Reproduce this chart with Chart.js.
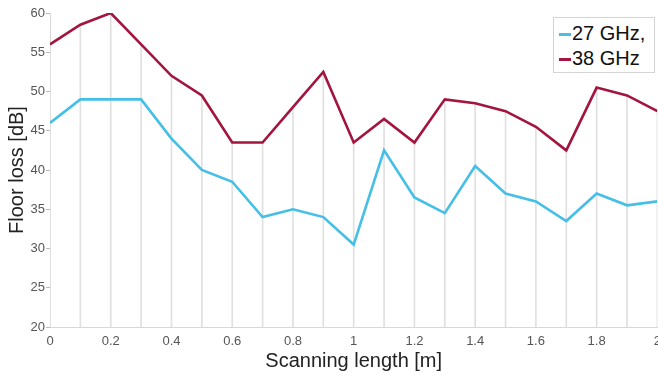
<!DOCTYPE html>
<html>
<head>
<meta charset="utf-8">
<script src="https://cdn.jsdelivr.net/npm/chart.js@4"></script>
<style>
  html, body { margin: 0; padding: 0; background: #fff; overflow: hidden; }
  #wrap { position: relative; width: 658px; height: 376px; overflow: hidden; }
  #newChart { position: absolute; left: 0; top: 0; }
  #legend {
    position: absolute; left: 553px; top: 17px; width: 100px; height: 54px;
    border: 1px solid #d4d4d4; background: #fff;
    font-family: "Liberation Sans", Arial, sans-serif; font-size: 20px; color: #111;
  }
  .row { position: absolute; left: 5px; height: 24px; line-height: 24px; white-space: nowrap; }
  .sw { display: inline-block; width: 12px; height: 3px; vertical-align: middle; margin-right: 1px; }
</style>
</head>
<body>
<div id="wrap">
  <canvas id="newChart" width="668" height="376"></canvas>
  <div id="legend">
    <div class="row" style="top:3px"><span class="sw" style="background:#45bfe6"></span>27 GHz,</div>
    <div class="row" style="top:28px"><span class="sw" style="background:#a3153f"></span>38 GHz</div>
  </div>
</div>
<script>
// scanning positions [m]
var positions = [0, 0.1, 0.2, 0.3, 0.4, 0.5, 0.6, 0.7, 0.8, 0.9, 1, 1.1, 1.2, 1.3, 1.4, 1.5, 1.6, 1.7, 1.8, 1.9, 2];
// floor loss [dB]
var loss27 = [46, 49, 49, 49, 44, 40, 38.5, 34, 35, 34, 30.5, 42.5, 36.5, 34.5, 40.5, 37, 36, 33.5, 37, 35.5, 36];
var loss38 = [56, 58.5, 60, 56, 52, 49.5, 43.5, 43.5, 48, 52.5, 43.5, 46.5, 43.5, 49, 48.5, 47.5, 45.5, 42.5, 50.5, 49.5, 47.5];
var xTicks = [0, 0.2, 0.4, 0.6, 0.8, 1, 1.2, 1.4, 1.6, 1.8, 2];
var yTicks = [20, 25, 30, 35, 40, 45, 50, 55, 60];

function pts(vals) {
  return positions.map(function(x, i) { return {x: x, y: vals[i]}; });
}

window.onload = function() {
  var ctx = document.getElementById('newChart');
  var tickFont = {family: '"Liberation Sans", Arial, sans-serif', size: 13};
  new Chart(ctx, {
    type: 'line',
    data: {
      datasets: [{
        label: '27 GHz,',
        data: pts(loss27),
        borderColor: '#45bfe6',
        borderWidth: 2.6,
        pointRadius: 0,
        tension: 0,
        order: 1
      }, {
        label: '38 GHz',
        data: pts(loss38),
        borderColor: '#a3153f',
        borderWidth: 2.6,
        pointRadius: 0,
        tension: 0,
        order: 0
      }, {
        // thin grey stems under the 38 GHz curve
        type: 'bar',
        label: 'stems',
        data: pts(loss38),
        backgroundColor: '#e0e0e0',
        barThickness: 1,
        order: 5
      }]
    },
    options: {
      responsive: false,
      animation: false,
      layout: {padding: {top: 13, left: 0, right: 0, bottom: 0}},
      plugins: {legend: {display: false}, tooltip: {enabled: false}},
      scales: {
        x: {
          type: 'linear', min: 0, max: 2, offset: false,
          afterBuildTicks: function(s) { s.ticks = xTicks.map(function(v) { return {value: v}; }); },
          afterFit: function(s) { s.height = 49; },
          grid: {display: false, drawTicks: false, offset: false},
          border: {display: true, color: '#d8d8d8'},
          ticks: {font: tickFont, color: '#555', padding: 7, maxRotation: 0,
                  callback: function(v) { return String(v); }},
          title: {display: true, text: 'Scanning length [m]', color: '#222',
                  font: {family: '"Liberation Sans", Arial, sans-serif', size: 20},
                  padding: {top: 0, bottom: 3}}
        },
        y: {
          min: 20, max: 60,
          afterBuildTicks: function(s) { s.ticks = yTicks.map(function(v) { return {value: v}; }); },
          afterFit: function(s) { s.width = 50; },
          grid: {drawOnChartArea: false, drawTicks: true, tickLength: 4, color: '#bbb'},
          border: {display: true, color: '#d8d8d8'},
          ticks: {font: tickFont, color: '#555', padding: 1},
          title: {display: true, text: 'Floor loss [dB]', color: '#222',
                  font: {family: '"Liberation Sans", Arial, sans-serif', size: 20},
                  padding: {top: 5, bottom: 0}}
        }
      }
    }
  });
};
</script>
</body>
</html>
